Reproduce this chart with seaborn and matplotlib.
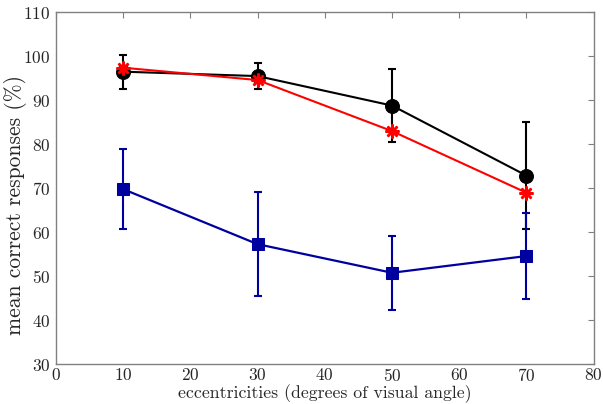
import pandas as pd
import seaborn as sns
import matplotlib.pyplot as plt

# eccentricities (deg) and mean correct responses (%)
ecc = [10, 30, 50, 70]
black_mean = [96.5, 95.5, 88.8, 72.9]
black_err = [3.9, 2.9, 8.2, 12.2]
red_mean = [97.4, 94.6, 83.0, 69.0]
blue_mean = [69.8, 57.3, 50.8, 54.6]
blue_err = [9.1, 11.8, 8.4, 9.7]

x_ticks = [0, 10, 20, 30, 40, 50, 60, 70, 80]
y_ticks = [30, 40, 50, 60, 70, 80, 90, 100, 110]

df = pd.DataFrame({
    'ecc': ecc * 3,
    'resp': black_mean + red_mean + blue_mean,
    'cond': ['black'] * 4 + ['red'] * 4 + ['blue'] * 4,
})

sns.set_style('white')
plt.rcParams['font.family'] = ['cmr10', 'DejaVu Serif']
plt.rcParams['axes.formatter.use_mathtext'] = True
plt.rcParams['mathtext.fontset'] = 'cm'

fig = plt.figure(figsize=(6.03, 4.04), dpi=100)
ax = fig.add_axes([0.0929, 0.0983, 0.8914, 0.8713])

blue = '#0000a0'
# error bars first
ax.errorbar(ecc, black_mean, yerr=black_err, fmt='none', ecolor='black',
            elinewidth=1.5, capsize=3, capthick=1.5, zorder=2)
ax.errorbar(ecc, blue_mean, yerr=blue_err, fmt='none', ecolor=blue,
            elinewidth=1.5, capsize=3, capthick=1.5, zorder=2)

sns.lineplot(data=df[df.cond == 'black'], x='ecc', y='resp', color='black',
             marker='o', markersize=10, markeredgecolor='black', linewidth=1.5,
             ax=ax, zorder=3)
sns.lineplot(data=df[df.cond == 'blue'], x='ecc', y='resp', color=blue,
             marker='s', markersize=9, markeredgecolor=blue, linewidth=1.6,
             ax=ax, zorder=3)
sns.lineplot(data=df[df.cond == 'red'], x='ecc', y='resp', color='#ff0000',
             marker=(8, 2, 0), markersize=10, markeredgewidth=1.8,
             markeredgecolor='#ff0000', linewidth=1.5, ax=ax, zorder=4)

ax.set_xlim(0, 80)
ax.set_ylim(30, 110)
ax.set_xticks(x_ticks)
ax.set_yticks(y_ticks)
ax.tick_params(direction='in', length=4, width=0.8, color='#808080',
               top=True, right=True, labelsize=12.5)
ax.tick_params(axis='x', pad=2)
ax.tick_params(axis='y', pad=4)
for s in ax.spines.values():
    s.set_color('#808080')
    s.set_linewidth(1)
    s.set_visible(True)

ax.set_xlabel('eccentricities (degrees of visual angle)', fontsize=12.8, labelpad=0)
ax.set_ylabel('mean correct responses (%)', fontsize=15.5)
ax.yaxis.set_label_coords(-0.054, 0.453)

fig.savefig('out.png', dpi=100)
